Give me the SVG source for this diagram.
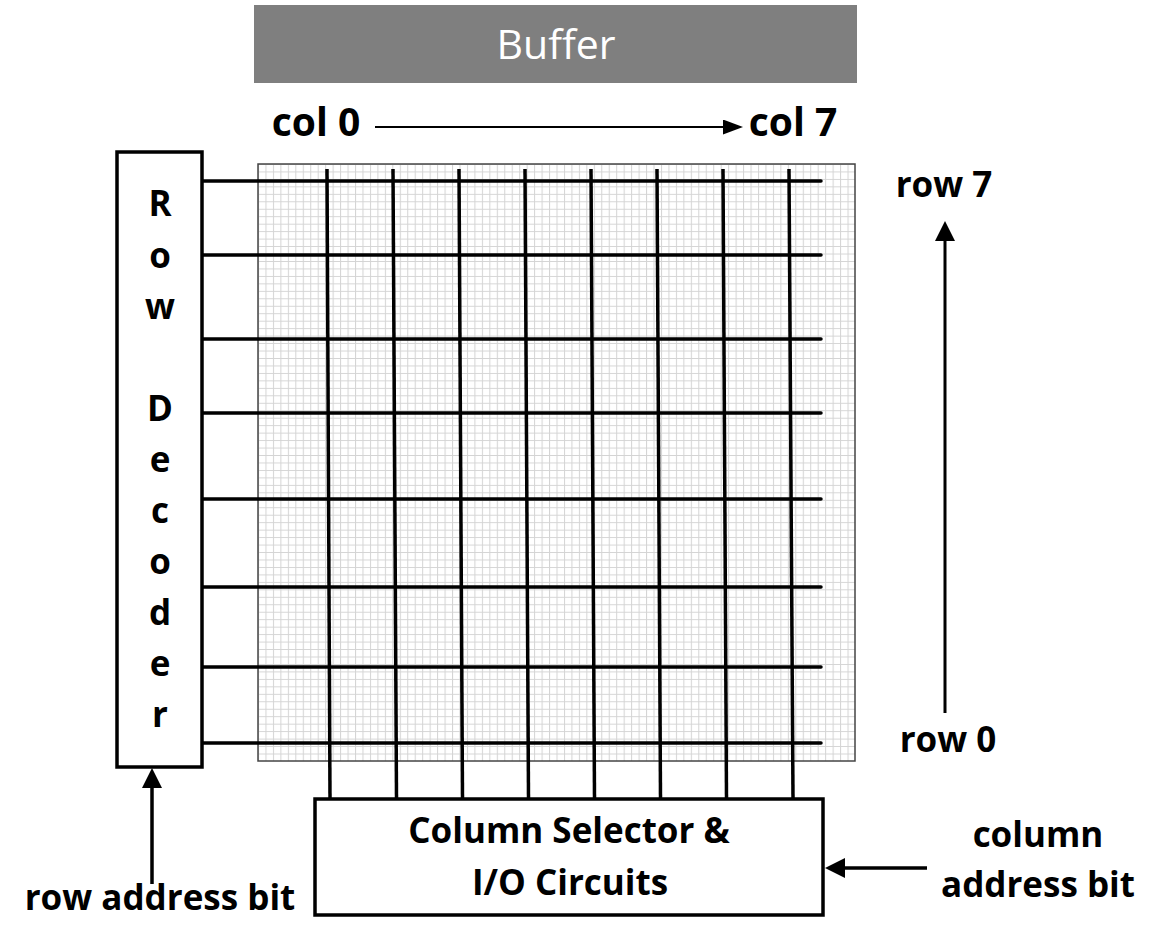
<svg xmlns="http://www.w3.org/2000/svg" width="1158" height="944" viewBox="0 0 1158 944">
<style>
.lbl{font-family:"Open Sans","Noto Sans","Liberation Sans",sans-serif;font-weight:bold;font-size:35px;fill:#000;text-anchor:middle}
.col{font-size:39px}
.box{fill:#fff;stroke:#000;stroke-width:3.5}
.wire{stroke:#000;stroke-width:3.5;stroke-linecap:round;fill:none}
.arr{stroke:#000;stroke-width:3.5;fill:none}
</style>
<defs>
<pattern id="cells" x="258" y="164" width="7.4625" height="7.4625" patternUnits="userSpaceOnUse">
<rect width="7.4625" height="7.4625" fill="#fff"/>
<path d="M0 0.5H7.4625M0.5 0V7.4625" stroke="#d4d4d4" stroke-width="1"/>
</pattern>
<marker id="head" viewBox="0 0 20 20" refX="0" refY="10" markerWidth="20" markerHeight="20" markerUnits="userSpaceOnUse" orient="auto">
<path d="M0 0L20 10L0 20Z" fill="#000"/>
</marker>
<marker id="head-s" viewBox="0 0 20 15" refX="0" refY="7.5" markerWidth="20" markerHeight="15" markerUnits="userSpaceOnUse" orient="auto">
<path d="M0 0L20 7.5L0 15Z" fill="#000"/>
</marker>
</defs>
<rect width="1158" height="944" fill="#fff"/>

<g id="buffer">
<rect x="254" y="5" width="603" height="78" fill="#7f7f7f"/>
<text x="556" y="59" font-family="'Open Sans','Noto Sans','Liberation Sans',sans-serif" font-size="41" fill="#fff" text-anchor="middle">Buffer</text>
</g>

<g id="array">
<rect x="258" y="164" width="597" height="597" fill="url(#cells)" stroke="#444" stroke-width="1.5"/>
</g>

<g id="row-decoder">
<rect class="box" x="117" y="152" width="85" height="615"/>
<text class="lbl" x="160" y="216">R</text>
<text class="lbl" x="160" y="268">o</text>
<text class="lbl" x="160" y="319">w</text>
<text class="lbl" x="160" y="421">D</text>
<text class="lbl" x="160" y="472">e</text>
<text class="lbl" x="160" y="523">c</text>
<text class="lbl" x="160" y="574">o</text>
<text class="lbl" x="160" y="625">d</text>
<text class="lbl" x="160" y="676">e</text>
<text class="lbl" x="160" y="727">r</text>
</g>

<g id="column-selector">
<rect class="box" x="315" y="799" width="508" height="116"/>
<text class="lbl" x="569" y="843">Column Selector &amp;</text>
<text class="lbl" x="570" y="895">I/O Circuits</text>
</g>

<g id="labels">
<text class="lbl col" x="316" y="136">col 0</text>
<text class="lbl col" x="793" y="136">col 7</text>
<text class="lbl" x="944" y="197">row 7</text>
<text class="lbl" x="948" y="752">row 0</text>
<text class="lbl" x="160" y="910">row address bit</text>
<text class="lbl" x="1038" y="847">column</text>
<text class="lbl" x="1038" y="897">address bit</text>
</g>

<g id="connectors">
<g class="wire">
<path d="M203 181H821"/>
<path d="M203 255H821"/>
<path d="M203 339H821"/>
<path d="M203 413H821"/>
<path d="M203 499H821"/>
<path d="M203 587H821"/>
<path d="M203 667H821"/>
<path d="M203 743H821"/>
</g>
<g class="wire" style="stroke-linecap:butt">
<path d="M327 169L330 799"/>
<path d="M393 169L396.5 799"/>
<path d="M459 169L462.5 799"/>
<path d="M525 169L528.5 799"/>
<path d="M591 169L594.5 799"/>
<path d="M657 169L660.5 799"/>
<path d="M723 169L726.5 799"/>
<path d="M789 169L793 799"/>
</g>
<path d="M375 127H723" stroke="#000" stroke-width="2.2" marker-end="url(#head-s)"/>
<path d="M945 713V241" class="arr" marker-end="url(#head)" style="stroke-width:3"/>
<path d="M152 884V788" class="arr" marker-end="url(#head)"/>
<path d="M927 868H845" class="arr" marker-end="url(#head)"/>
</g>
</svg>
